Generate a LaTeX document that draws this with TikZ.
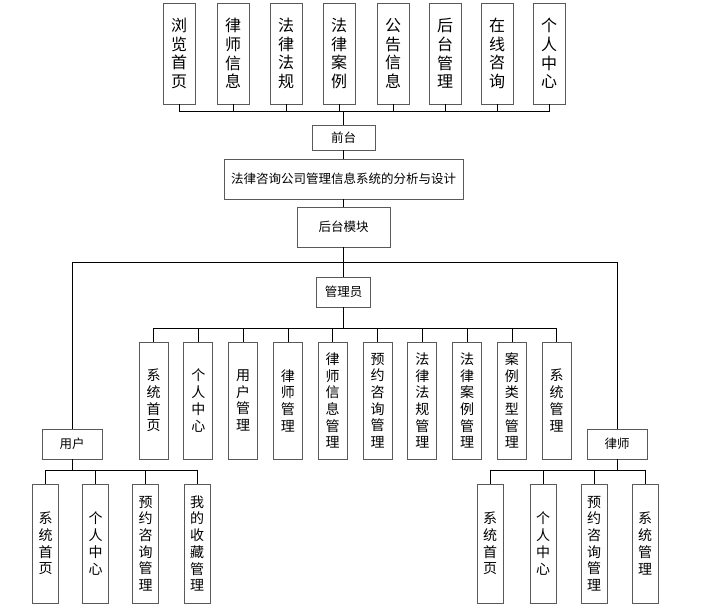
\documentclass[tikz,border=0pt]{standalone}
\usepackage{fontspec}
\setmainfont{Noto Sans CJK SC}
\begin{document}
\begin{tikzpicture}[x=1pt,y=-1pt,
    box/.style={draw=black!65,line width=0.9pt,fill=white,inner sep=0pt,align=center},
    topbox/.style={box,minimum width=32pt,minimum height=101pt,font=\fontsize{16}{18.7}\selectfont},
    glbox/.style={box,minimum width=29pt,minimum height=117pt,font=\fontsize{14}{16.7}\selectfont},
    subbox/.style={box,minimum width=26pt,minimum height=119pt,font=\fontsize{14}{16.7}\selectfont},
    midbox/.style={box,minimum height=30pt,font=\fontsize{12.5}{14}\selectfont},
    link/.style={line width=0.8pt}]
        \useasboundingbox (0,0) rectangle (715,606);
        % front end
        \foreach \x/\t [count=\i] in {179/{浏\\览\\首\\页},233/{律\\师\\信\\息},286/{法\\律\\法\\规},339/{法\\律\\案\\例},393/{公\\告\\信\\息},445/{后\\台\\管\\理},497/{在\\线\\咨\\询},549/{个\\人\\中\\心}}
            \node[topbox] (qt\i) at (\x,53.5) {\t};
        \node[midbox,minimum width=63pt,minimum height=25pt] (qian) at (343.5,137.5) {前台};
        \node[midbox,minimum width=239pt,minimum height=40pt,font=\fontsize{12.5}{15}\selectfont] (sys) at (343.5,179) {法律咨询公司管理信息系统的分析与设计};
        \node[midbox,minimum width=93pt,minimum height=40pt] (ht) at (343.5,227) {后台模块};
        % back end roles
        \node[midbox,minimum width=54pt] (gly) at (343.5,292) {管理员};
        \node[midbox,minimum width=60pt] (yh) at (72,444) {用户};
        \node[midbox,minimum width=60pt] (ls) at (617,444) {律师};
        \foreach \t [count=\i] in {{系\\统\\首\\页},{个\\人\\中\\心},{用\\户\\管\\理},{律\\师\\管\\理},{律\\师\\信\\息\\管\\理},{预\\约\\咨\\询\\管\\理},{法\\律\\法\\规\\管\\理},{法\\律\\案\\例\\管\\理},{案\\例\\类\\型\\管\\理},{系\\统\\管\\理}}
            \node[glbox] (gl\i) at (153.5+44.8*\i-44.8,400.5) {\t};
        \foreach \x/\t [count=\i] in {45.5/{系\\统\\首\\页},95.5/{个\\人\\中\\心},145.5/{预\\约\\咨\\询\\管\\理},197/{我\\的\\收\\藏\\管\\理}}
            \node[subbox] (yh\i) at (\x,543.5) {\t};
        \foreach \x/\t [count=\i] in {490/{系\\统\\首\\页},543/{个\\人\\中\\心},594/{预\\约\\咨\\询\\管\\理},645/{系\\统\\管\\理}}
            \node[subbox] (ls\i) at (\x,543.5) {\t};
        % connectors
        \foreach \i in {1,...,8}
            \draw[link] (qian.north) -- ++(0,-13) -| (qt\i.south);
        \draw[link] (qian) -- (sys);
        \draw[link] (sys) -- (ht);
        \draw[link] (ht) -- (gly);
        \draw[link] (ht.south) -- ++(0,15) -| (yh.north);
        \draw[link] (ht.south) -- ++(0,15) -| (ls.north);
        \foreach \i in {1,...,10}
            \draw[link] (gly.south) -- ++(0,21) -| (gl\i.north);
        \foreach \i in {1,...,4} {
            \draw[link] (yh.south) -- ++(0,11) -| (yh\i.north);
            \draw[link] (ls.south) -- ++(0,11) -| (ls\i.north);
        }
\end{tikzpicture}
\end{document}
